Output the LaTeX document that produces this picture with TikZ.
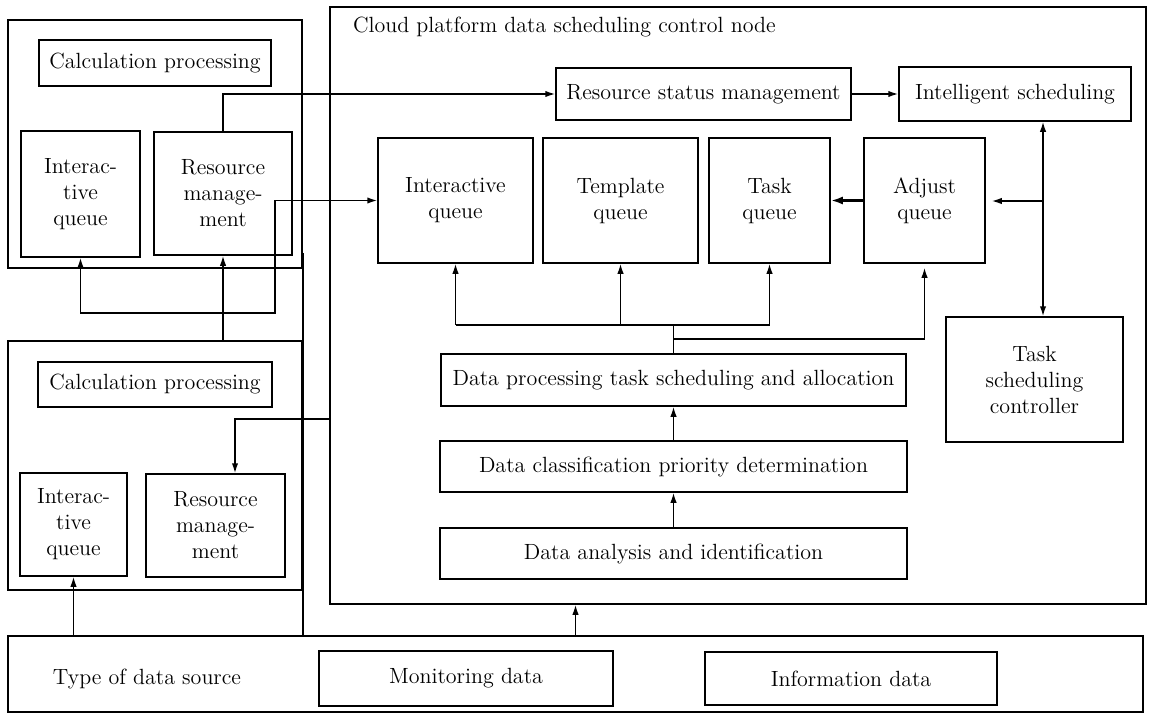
\documentclass[tikz,border=0pt]{standalone}
\usepackage{tikz}
\usetikzlibrary{arrows.meta,calc}
\tikzset{
	box/.style 2 args={
			draw, line width=0.75pt, align=center, inner sep=0pt,
			minimum width=#1*0.5pt, minimum height=#2*0.5pt},
	wire/.style={line width=0.75pt}
}
\begin{document}
\begin{tikzpicture}[x=0.5pt, y=-0.5pt, >={Latex[length=5pt,width=3.2pt]}, font=\fontsize{11}{13}\selectfont]
	\useasboundingbox (0,0) rectangle (1150,717);

	% Left side: two calculation nodes
	\node[box={294}{248}] (leftA) at (155,144) {};
	\node[box={232}{46}] (calcA) at (155,63) {Calculation processing};
	\node[box={119}{126}] (iqA) at (80.5,194) {Interac-\\tive\\queue};
	\node[box={138}{123}] (rmA) at (223,193.5) {Resource\\manage-\\ment};

	\node[box={294}{249}] (leftB) at (155,465.5) {};
	\node[box={234}{45}] (calcB) at (155,384.5) {Calculation processing};
	\node[box={107}{103}] (iqB) at (73.5,524.5) {Interac-\\tive\\queue};
	\node[box={139}{103}] (rmB) at (215.5,525.5) {Resource\\manage-\\ment};

	% Control node
	\node[box={816}{597}] (cloud) at (738,305.5) {};
	\node[anchor=west] (title) at (346,27) {Cloud platform data scheduling control node};
	\node[box={295}{52}] (rsm) at (703.5,94) {Resource status management};
	\node[box={232}{54}] (intel) at (1015,94) {Intelligent scheduling};
	\node[box={155}{125}] (iqC) at (455.5,200.5) {Interactive\\queue};
	\node[box={155}{125}] (tq) at (620.5,200.5) {Template\\queue};
	\node[box={121}{125}] (taskq) at (769.5,200.5) {Task\\queue};
	\node[box={121}{125}] (adjq) at (924.5,200.5) {Adjust\\queue};
	\node[box={177}{125}] (tsc) at (1034.5,379.5) {Task\\scheduling\\controller};
	\node[box={465}{52}] (dpa) at (673.5,380) {Data processing task scheduling and allocation};
	\node[box={467}{51}] (dcp) at (673.5,466.5) {Data classification priority determination};
	\node[box={467}{51}] (dai) at (673.5,553.5) {Data analysis and identification};

	% Data sources
	\node[box={1135}{76}] (src) at (575.5,674) {};
	\node (type) at (147,679) {Type of data source};
	\node[box={294}{55}] (mon) at (466,678.5) {Monitoring data};
	\node[box={292}{53}] (info) at (851,678.5) {Information data};

	\coordinate (loopA) at (275,313);
	\coordinate (bendB) at (235,419);
	\coordinate (busR) at (1043,201);
	\coordinate (busC) at (672,325);
	\coordinate (busD) at (672,339);

	% Connections
	\draw[wire,->] (rmA.north) |- (rsm.west);
	\draw[wire,->] (rsm.east) -- (intel.west);
	\draw[wire,<->] (iqA.south) |- (loopA) |- (iqC.west);
	\draw[wire,->] (rmA.south |- leftB.north) -- (rmA.south);
	\draw[wire] ([yshift=8pt]leftA.south east) -- (leftA.south east |- src.north);
	\draw[wire,->] (cloud.west |- bendB) -- (bendB) -- (bendB |- rmB.north);
	\draw[wire,->] (iqB.south |- src.north) -- (iqB.south);
	\draw[wire,->] (src.north) -- (src.north |- cloud.south);

	\draw[wire,<->] (busR |- intel.south) -- (busR |- tsc.north);
	\draw[wire,->,shorten >=3pt] (busR) -- (busR -| adjq.east);
	\draw[line width=1.4pt,-{Latex[length=6pt,width=4pt]}] (adjq.west) -- (taskq.east);

	\draw[wire,->] (dai.north) -- (dcp.south);
	\draw[wire,->] (dcp.north) -- (dpa.south);
	\draw[wire] (dpa.north) -- (dpa.north |- busC);
	\draw[wire] (iqC.south |- busC) -- (taskq.south |- busC);
	\foreach \q in {iqC,tq,taskq}
		\draw[wire,->] (\q.south |- busC) -- (\q.south);
	\draw[wire,->,shorten >=2pt] (dpa.north |- busD) -| (adjq.south);
\end{tikzpicture}
\end{document}
